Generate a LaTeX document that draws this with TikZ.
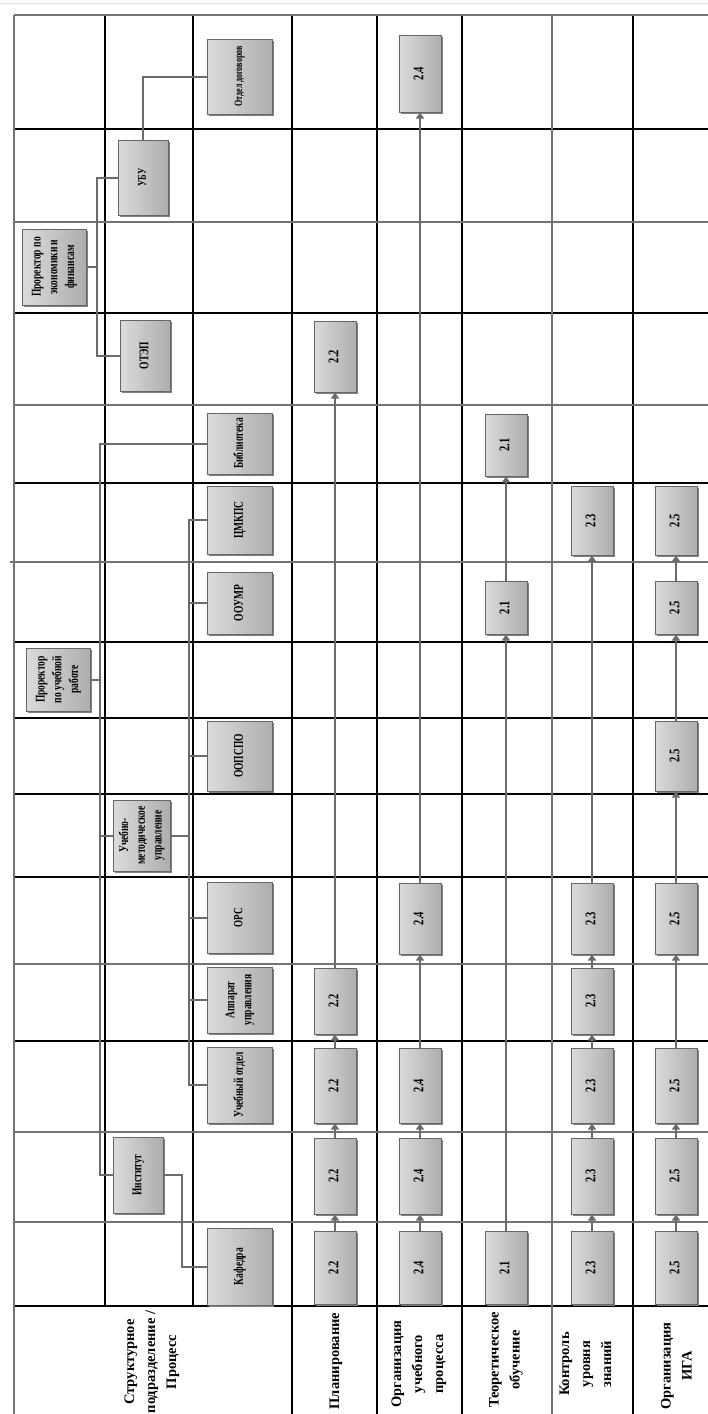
\documentclass[tikz,border=0pt]{standalone}
\usepackage{graphicx}
\usepackage{fontspec}
\setmainfont{Liberation Serif}
\usetikzlibrary{arrows.meta,shadows}

\newcommand{\vtxt}[1]{\rotatebox{90}{\scalebox{1}[1.4]{\begin{tabular}{@{}c@{}}#1\end{tabular}}}}
\newcommand{\htxt}[1]{\rotatebox{90}{\begin{tabular}{@{}c@{}}#1\end{tabular}}}

\begin{document}
\begin{tikzpicture}[x=1pt, y=-1pt,
  box/.style={rectangle, draw=black!60, line width=1pt, inner sep=0pt,
    left color=black!14, right color=black!32,
    drop shadow={shadow xshift=1.6pt, shadow yshift=-1.6pt, fill=black!50, opacity=1}},
  unit/.style={box, minimum width=65pt, font=\bfseries\fontsize{9.5}{12}\selectfont},
  proc/.style={box, minimum width=42pt, font=\bfseries\fontsize{10.5}{12}\selectfont},
  hdr/.style={inner sep=0pt, font=\bfseries\fontsize{14.5}{21}\selectfont},
  tline/.style={line width=1.4pt},
  gline/.style={line width=2pt, black!55},
  link/.style={line width=2pt, black!58},
  flow/.style={link, -{Triangle[width=8pt,length=6pt]}}
]
\useasboundingbox (0,0) rectangle (708,1414);
\draw[black!12, line width=0.8pt] (0,3) -- (708,3);

% table
\draw[tline] (105,15) -- (105,1306) (193,15) -- (193,1306)
  (292,15) -- (292,1414) (377,15) -- (377,1414)
  (462,15) -- (462,1414) (633,15) -- (633,1414);
\draw[tline] (14,129) -- (708,129) (14,313) -- (708,313) (14,483) -- (708,483)
  (14,642) -- (708,642) (14,718) -- (708,718) (14,794) -- (708,794)
  (14,877) -- (708,877) (14,1041) -- (708,1041) (14,1306) -- (708,1306);
\draw[gline] (14,15) -- (14,1414) (552,15) -- (552,1414) (14,15) -- (708,15)
  (14,222) -- (708,222) (14,405) -- (708,405) (10,562) -- (708,562)
  (14,964) -- (708,964) (14,1132) -- (708,1132) (14,1222) -- (708,1222);

\node[hdr] (h0) at (151,1362) {\htxt{Структурное\\подразделение /\\Процесс}};
\node[hdr] (h1) at (335,1361) {\htxt{Планирование}};
\node[hdr] (h2) at (418,1364) {\htxt{Организация\\учебного\\процесса}};
\node[hdr] (h3) at (505,1360) {\htxt{Теоретическое\\обучение}};
\node[hdr] (h4) at (586,1364) {\htxt{Контроль\\уровня\\знаний}};
\node[hdr] (h5) at (677,1366) {\htxt{Организация\\ИГА}};

% structural units
\node[unit, minimum height=75pt, font=\bfseries\fontsize{8}{9}\selectfont] (dog) at (239.5,76.5) {\vtxt{Отдел договоров}};
\node[unit, minimum width=50pt, minimum height=75pt, font=\bfseries\fontsize{8.5}{10}\selectfont] (ubu) at (143,177.5) {\vtxt{УБУ}};
\node[unit, minimum width=64pt, minimum height=76pt] (pe) at (54,267) {\vtxt{Проректор по\\экономики и\\финансам}};
\node[unit, minimum width=50pt, minimum height=71pt] (otep) at (145,355.5) {\vtxt{ОТЭП}};
\node[unit, minimum height=61pt] (bib) at (239.5,443.5) {\vtxt{Библиотека}};
\node[unit, minimum height=68pt] (cmk) at (239.5,520) {\vtxt{ЦМКПС}};
\node[unit, minimum height=62pt] (oou) at (239.5,603) {\vtxt{ООУМР}};
\node[unit, minimum width=64pt, minimum height=63pt] (pu) at (58,679.5) {\vtxt{Проректор\\по учебной\\работе}};
\node[unit, minimum height=70pt] (oop) at (239.5,756) {\vtxt{ООПСПО}};
\node[unit, minimum width=57pt, minimum height=71pt] (umu) at (141.5,835.5) {\vtxt{Учебно-\\методическое\\управление}};
\node[unit, minimum height=71pt, font=\bfseries\fontsize{9}{10}\selectfont] (ors) at (239.5,917.5) {\vtxt{ОРС}};
\node[unit, minimum height=66pt] (app) at (239.5,1000) {\vtxt{Аппарат\\управления}};
\node[unit, minimum height=76pt] (uo) at (239.5,1085) {\vtxt{Учебный отдел}};
\node[unit, minimum width=50pt, minimum height=76pt] (inst) at (138,1175) {\vtxt{Институт}};
\node[unit, minimum height=77pt] (kaf) at (239.5,1266.5) {\vtxt{Кафедра}};

\coordinate (eb) at (97,267);
\draw[link] (pe) -- (eb);
\draw[link] (ubu.west) -| (eb) |- (otep.west);
\draw[link] (ubu.north) |- (dog.west);

\coordinate (ub) at (100,679.5);
\draw[link] (pu) -- (ub);
\draw[link] (bib.west) -| (ub) |- (inst.west);
\draw[link] (ub |- umu.west) -- (umu.west);

\coordinate (mb) at (189,835.5);
\draw[link] (umu) -- (mb);
\draw[link] (cmk.west) -| (mb) |- (uo.west);
\draw[link] (mb |- oou.west) -- (oou.west);
\draw[link] (mb |- oop.west) -- (oop.west);
\draw[link] (mb |- ors.west) -- (ors.west);
\draw[link] (mb |- app.west) -- (app.west);

\coordinate (ik) at (182,1175);
\draw[link] (inst) -- (ik) |- (kaf.west);

% processes
\node[proc, minimum height=73pt] (p1) at (335,1267.5) {\vtxt{2.2}};
\node[proc, minimum height=76pt] (p2) at (335,1176) {\vtxt{2.2}};
\node[proc, minimum height=75pt] (p3) at (335,1085.5) {\vtxt{2.2}};
\node[proc, minimum height=66pt] (p4) at (335,1001) {\vtxt{2.2}};
\node[proc, minimum height=71pt] (p5) at (335,356.5) {\vtxt{2.2}};
\draw[flow] (p1) -- (p2);
\draw[flow] (p2) -- (p3);
\draw[flow] (p3) -- (p4);
\draw[flow] (p4) -- (p5);

\node[proc, minimum height=73pt] (o1) at (420,1267.5) {\vtxt{2.4}};
\node[proc, minimum height=76pt] (o2) at (420,1176) {\vtxt{2.4}};
\node[proc, minimum height=75pt] (o3) at (420,1085.5) {\vtxt{2.4}};
\node[proc, minimum height=71pt] (o4) at (420,918.5) {\vtxt{2.4}};
\node[proc, minimum height=77pt] (o5) at (420,73.5) {\vtxt{2.4}};
\draw[flow] (o1) -- (o2);
\draw[flow] (o2) -- (o3);
\draw[flow] (o3) -- (o4);
\draw[flow] (o4) -- (o5);

\node[proc, minimum height=73pt] (t1) at (506,1267.5) {\vtxt{2.1}};
\node[proc, minimum height=53pt] (t2) at (506,607.5) {\vtxt{2.1}};
\node[proc, minimum height=62pt] (t3) at (506,445) {\vtxt{2.1}};
\draw[flow] (t1) -- (t2);
\draw[flow] (t2) -- (t3);

\node[proc, minimum height=73pt] (k1) at (592,1267.5) {\vtxt{2.3}};
\node[proc, minimum height=76pt] (k2) at (592,1176) {\vtxt{2.3}};
\node[proc, minimum height=75pt] (k3) at (592,1085.5) {\vtxt{2.3}};
\node[proc, minimum height=66pt] (k4) at (592,1001) {\vtxt{2.3}};
\node[proc, minimum height=71pt] (k5) at (592,918.5) {\vtxt{2.3}};
\node[proc, minimum height=69pt] (k6) at (592,520.5) {\vtxt{2.3}};
\draw[flow] (k1) -- (k2);
\draw[flow] (k2) -- (k3);
\draw[flow] (k3) -- (k4);
\draw[flow] (k4) -- (k5);
\draw[flow] (k5) -- (k6);

\node[proc, minimum height=73pt] (g1) at (676,1267.5) {\vtxt{2.5}};
\node[proc, minimum height=76pt] (g2) at (676,1176) {\vtxt{2.5}};
\node[proc, minimum height=75pt] (g3) at (676,1085.5) {\vtxt{2.5}};
\node[proc, minimum height=71pt] (g4) at (676,918.5) {\vtxt{2.5}};
\node[proc, minimum height=70pt] (g5) at (676,756) {\vtxt{2.5}};
\node[proc, minimum height=53pt] (g6) at (676,607.5) {\vtxt{2.5}};
\node[proc, minimum height=69pt] (g7) at (676,520.5) {\vtxt{2.5}};
\draw[flow] (g1) -- (g2);
\draw[flow] (g2) -- (g3);
\draw[flow] (g3) -- (g4);
\draw[flow] (g4) -- (g5);
\draw[flow] (g5) -- (g6);
\draw[flow] (g6) -- (g7);
\end{tikzpicture}
\end{document}
